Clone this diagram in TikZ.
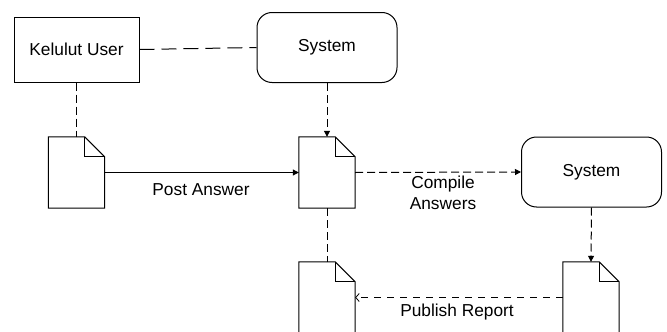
\documentclass[tikz,border=0pt]{standalone}
\usepackage{fontspec}
\setmainfont{Liberation Sans}
\usetikzlibrary{arrows.meta}
\newcommand{\drawdoc}[1]{%
  \draw[docline] (#1.north west) -- ([xshift=-20pt]#1.north east) -- ([yshift=-20pt]#1.north east) -- (#1.south east) -- (#1.south west) -- cycle;
  \draw[docline] ([xshift=-20pt]#1.north east) |- ([yshift=-20pt]#1.north east);}
\begin{document}
\begin{tikzpicture}[x=1pt,y=-1pt,
  every node/.style={font=\fontsize{17.3}{21}\selectfont, inner sep=0pt},
  docline/.style={line width=1pt, line join=miter},
  box/.style={draw, line width=1pt, minimum width=125pt, minimum height=65pt},
  rbox/.style={draw, line width=1pt, rounded corners=15pt, minimum width=140pt, minimum height=70pt},
  docnode/.style={minimum width=56pt, minimum height=71pt},
  conn/.style={line width=1pt},
  dlong/.style={conn, dash pattern=on 15pt off 7pt},
  dshort/.style={conn, dash pattern=on 8pt off 4pt},
  tip/.style={-{Triangle[length=6pt,width=6pt]}},
  otip/.style={-{Straight Barb[length=3.5pt,width=8pt,line width=0.8pt]}}
]
\clip (0,0) rectangle (667,332);
\fill[white] (0,0) rectangle (667,332);
\node[box] (ku) at (76.5,49.5) {Kelulut User};
\node[rbox] (s1) at (327,47.5) {System};
\node[rbox] (s2) at (591.5,172) {System};
\node[docnode] (d1) at (76.5,172.5) {};
\node[docnode] (d2) at (327,172.5) {};
\node[docnode] (d3) at (327,297.5) {};
\node[docnode] (d4) at (591,297.5) {};
\drawdoc{d1}
\drawdoc{d2}
\drawdoc{d3}
\drawdoc{d4}
\draw[dlong] (ku.east) -- (s1.west);
\draw[dshort] (ku.south) -- (d1.north);
\draw[dshort,tip] (s1.south) -- (d2.north);
\draw[conn,tip] (d1.east) -- (d2.west);
\draw[dshort,tip] (d2.east) -- (s2.west);
\draw[dshort] (d2.south) -- (d3.north);
\draw[dshort,tip] (s2.south) -- (d4.north);
\draw[conn,dash pattern=on 7pt off 6pt,otip] (d4.west) -- (d3.east);
\node[anchor=base] (lpost) at (201,195) {Post Answer};
\node[align=center] (lcomp) at (443,192.5) {Compile\\Answers};
\node[anchor=base] (lpub) at (457,316) {Publish Report};
\end{tikzpicture}
\end{document}
